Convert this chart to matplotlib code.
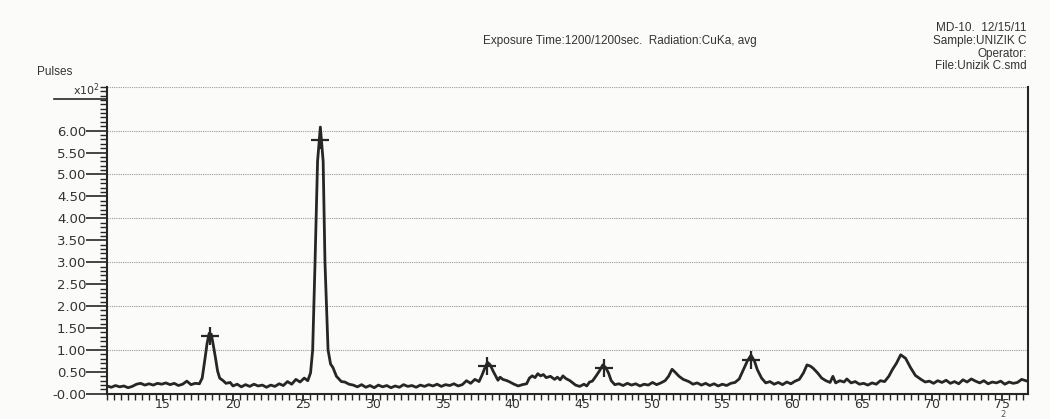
import matplotlib
matplotlib.use("Agg")
import matplotlib.pyplot as plt
import numpy as np
from matplotlib.ticker import MultipleLocator, FixedLocator, FixedFormatter

# XRD pattern (2-theta in degrees, pulses in x10^2)
two_theta = [11.0, 11.3, 11.6, 11.9, 12.2, 12.5, 12.8, 13.1, 13.4, 13.7, 14.0, 14.3, 14.6, 14.9,
             15.2, 15.5, 15.8, 16.1, 16.4, 16.7, 17.0, 17.3, 17.6, 17.8, 18.0, 18.15, 18.3, 18.45,
             18.6, 18.75, 18.9, 19.05, 19.3, 19.5, 19.8, 20.0, 20.3, 20.6, 20.9, 21.2, 21.5, 21.8,
             22.1, 22.4, 22.7, 23.0, 23.3, 23.6, 23.9, 24.2, 24.5, 24.8, 25.1, 25.35, 25.55, 25.7,
             25.87, 26.05, 26.25, 26.45, 26.58, 26.8, 26.98, 27.15, 27.4, 27.75, 28.0, 28.3, 28.6,
             28.9, 29.2, 29.5, 29.8, 30.1, 30.4, 30.7, 31.0, 31.3, 31.6, 31.9, 32.2, 32.5, 32.8,
             33.1, 33.4, 33.7, 34.0, 34.3, 34.6, 34.9, 35.2, 35.5, 35.8, 36.1, 36.4, 36.7, 37.0,
             37.3, 37.6, 37.8, 38.0, 38.2, 38.4, 38.6, 38.8, 38.95, 39.1, 39.3, 39.6, 39.8, 40.1,
             40.4, 40.7, 41.0, 41.2, 41.4, 41.6, 41.8, 42.0, 42.2, 42.4, 42.7, 43.0, 43.2, 43.4,
             43.6, 43.8, 44.1, 44.3, 44.5, 44.8, 45.1, 45.3, 45.5, 45.7, 45.95, 46.2, 46.45, 46.65,
             46.85, 47.05, 47.3, 47.6, 47.9, 48.2, 48.5, 48.8, 49.1, 49.4, 49.7, 50.0, 50.3, 50.6,
             50.9, 51.15, 51.4, 51.6, 51.9, 52.2, 52.6, 52.9, 53.2, 53.5, 53.8, 54.1, 54.4, 54.7,
             55.0, 55.3, 55.6, 55.9, 56.2, 56.5, 56.8, 57.05, 57.3, 57.5, 57.8, 58.1, 58.4, 58.7,
             59.0, 59.3, 59.6, 59.9, 60.2, 60.5, 60.8, 61.05, 61.3, 61.5, 61.8, 62.1, 62.4, 62.7,
             62.9, 63.1, 63.4, 63.7, 63.9, 64.2, 64.5, 64.8, 65.1, 65.4, 65.7, 66.0, 66.3, 66.6,
             66.9, 67.15, 67.45, 67.75, 68.1, 68.45, 68.8, 69.2, 69.5, 69.8, 70.1, 70.4, 70.7,
             71.0, 71.3, 71.6, 71.9, 72.2, 72.5, 72.8, 73.1, 73.4, 73.7, 74.0, 74.3, 74.6, 74.9,
             75.2, 75.5, 75.8, 76.1, 76.4, 76.8]
pulses = [0.18, 0.15, 0.19, 0.16, 0.18, 0.14, 0.17, 0.22, 0.24, 0.20, 0.23, 0.20, 0.24, 0.22,
          0.25, 0.21, 0.24, 0.19, 0.22, 0.29, 0.21, 0.24, 0.23, 0.36, 0.80, 1.15, 1.38, 1.36,
          1.10, 0.82, 0.52, 0.36, 0.30, 0.24, 0.26, 0.18, 0.22, 0.16, 0.21, 0.17, 0.22, 0.18,
          0.20, 0.15, 0.20, 0.17, 0.23, 0.19, 0.28, 0.22, 0.33, 0.27, 0.36, 0.30, 0.48, 1.00,
          3.00, 5.30, 6.08, 5.30, 3.00, 1.00, 0.68, 0.60, 0.40, 0.28, 0.27, 0.22, 0.20,
          0.16, 0.21, 0.15, 0.19, 0.14, 0.20, 0.16, 0.19, 0.14, 0.18, 0.15, 0.21, 0.17, 0.19,
          0.15, 0.20, 0.17, 0.21, 0.18, 0.22, 0.17, 0.21, 0.19, 0.23, 0.18, 0.21, 0.30, 0.24,
          0.33, 0.28, 0.42, 0.58, 0.72, 0.66, 0.52, 0.40, 0.31, 0.38, 0.33, 0.30, 0.27, 0.22,
          0.18, 0.21, 0.23, 0.36, 0.41, 0.37, 0.46, 0.41, 0.44, 0.37, 0.40, 0.33, 0.38, 0.32,
          0.41, 0.35, 0.30, 0.25, 0.20, 0.17, 0.22, 0.18, 0.27, 0.29, 0.40, 0.52, 0.66, 0.60,
          0.48, 0.30, 0.21, 0.23, 0.19, 0.24, 0.20, 0.23, 0.18, 0.22, 0.20, 0.26, 0.21, 0.25,
          0.30, 0.40, 0.56, 0.50, 0.40, 0.33, 0.28, 0.22, 0.25, 0.20, 0.24, 0.19, 0.23, 0.18,
          0.22, 0.19, 0.24, 0.26, 0.34, 0.55, 0.76, 0.88, 0.74, 0.55, 0.36, 0.25, 0.28, 0.22,
          0.26, 0.21, 0.27, 0.23, 0.29, 0.33, 0.48, 0.66, 0.63, 0.58, 0.48, 0.36, 0.30, 0.26,
          0.40, 0.25, 0.30, 0.27, 0.34, 0.25, 0.28, 0.22, 0.24, 0.20, 0.25, 0.22, 0.30, 0.28,
          0.40, 0.55, 0.70, 0.89, 0.81, 0.60, 0.42, 0.33, 0.27, 0.29, 0.24, 0.30, 0.26,
          0.31, 0.24, 0.28, 0.23, 0.32, 0.27, 0.34, 0.29, 0.25, 0.30, 0.23, 0.27, 0.25, 0.29,
          0.22, 0.27, 0.24, 0.26, 0.33, 0.29]

# identified peaks (+ marks)
peak_theta = [18.35, 26.25, 38.2, 46.5, 57.05]
peak_pulses = [1.33, 5.78, 0.64, 0.58, 0.78]

y_ticks = [0.0, 0.5, 1.0, 1.5, 2.0, 2.5, 3.0, 3.5, 4.0, 4.5, 5.0, 5.5, 6.0]
y_labels = ["-0.00", "0.50", "1.00", "1.50", "2.00", "2.50", "3.00", "3.50",
            "4.00", "4.50", "5.00", "5.50", "6.00"]
x_ticks = [15, 20, 25, 30, 35, 40, 45, 50, 55, 60, 65, 70, 75]

ink = "#262626"
plt.rcParams["font.family"] = ["DejaVu Sans"]

fig = plt.figure(figsize=(10.5, 4.19), dpi=100)
fig.patch.set_facecolor("#fbfbf9")
ax = fig.add_axes([0.102, 0.06, 0.877, 0.733])
ax.set_facecolor("#fbfbf9")

# dotted grid at whole hundreds
for g in range(1, 8):
    ax.axhline(g, color="#9a9a9a", lw=0.8, ls=(0, (1, 1)), zorder=1)

ax.plot(two_theta, pulses, color=ink, lw=2.0, zorder=3)
ax.plot(peak_theta, peak_pulses, ls="none", marker="+", ms=13, mew=1.6,
        color=ink, zorder=4)

ax.set_xlim(11.0, 76.85)
ax.set_ylim(0.0, 7.0)

ax.spines["top"].set_visible(False)
for s in ["left", "right", "bottom"]:
    ax.spines[s].set_color(ink)
    ax.spines[s].set_linewidth(1.5)

ax.yaxis.set_major_locator(FixedLocator(y_ticks))
ax.yaxis.set_major_formatter(FixedFormatter(y_labels))
ax.yaxis.set_minor_locator(MultipleLocator(0.1))
ax.xaxis.set_major_locator(FixedLocator(x_ticks))
ax.xaxis.set_minor_locator(MultipleLocator(0.5))

ax.tick_params(axis="y", which="major", direction="out", length=15, width=1.2,
               color=ink, labelsize=9.5, labelcolor="#333333", pad=0)
ax.tick_params(axis="y", which="minor", direction="out", length=5, width=1.0, color=ink)
ax.tick_params(axis="x", which="major", direction="out", length=5, width=1.3,
               color=ink, labelsize=9, labelcolor="#333333", pad=-2)
ax.tick_params(axis="x", which="minor", direction="out", length=4, width=1.0, color=ink)

# scale marker at the top of the y axis
ax.plot([-0.058, 0.0], [0.961, 0.961], transform=ax.transAxes, color=ink,
        lw=1.2, clip_on=False)
ax.text(-0.008, 0.962, "x10$^2$", transform=ax.transAxes, ha="right", va="bottom",
        fontsize=8, color="#333333")

hdr = dict(fontsize=8.5, color="#333333", va="center", family=["Liberation Sans", "DejaVu Sans"])
fig.text(0.035, 0.828, "Pulses", ha="left", **hdr)
fig.text(0.955, 0.0, "2", fontsize=6, color="#555555", ha="center", va="bottom")

fig.text(0.46, 0.902, "Exposure Time:1200/1200sec.  Radiation:CuKa, avg", ha="left", **hdr)
fig.text(0.978, 0.933, "MD-10.  12/15/11", ha="right", **hdr)
fig.text(0.978, 0.902, "Sample:UNIZIK C", ha="right", **hdr)
fig.text(0.978, 0.871, "Operator:", ha="right", **hdr)
fig.text(0.978, 0.842, "File:Unizik C.smd", ha="right", **hdr)

fig.savefig("out.png", dpi=100, facecolor=fig.get_facecolor())
